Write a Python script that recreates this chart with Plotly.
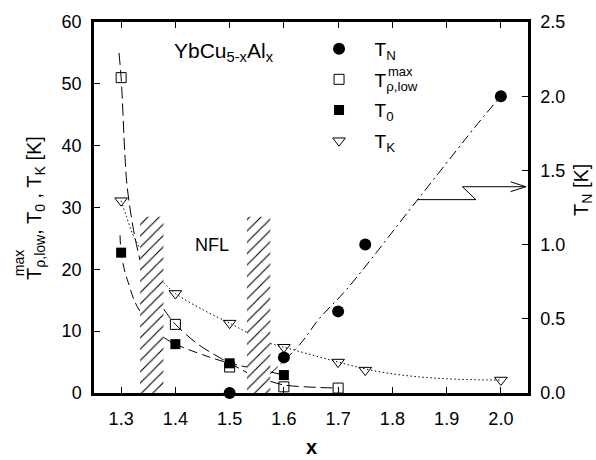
import plotly.graph_objects as go

# ---------------- data ----------------
# measured points
TN_x = [1.5, 1.6, 1.7, 1.75, 2.0]
TN_val = [0.0, 0.24, 0.55, 1.0, 2.0]            # right axis [K]
Tmax_x = [1.3, 1.4, 1.5, 1.6, 1.7]
Tmax_val = [51.0, 11.1, 4.2, 1.0, 0.8]           # left axis [K]
T0_x = [1.3, 1.4, 1.5, 1.6]
T0_val = [22.7, 7.9, 4.8, 2.9]
TK_x = [1.3, 1.4, 1.5, 1.6, 1.7, 1.75, 2.0]
TK_val = [31.1, 16.1, 11.3, 7.4, 5.0, 3.7, 2.1]

# guide-to-the-eye curves (None = interrupted by the NFL bands)
Tmax_curve_x = [1.296, 1.300, 1.307, 1.311, 1.323, 1.335, None,
                1.378, 1.388, 1.40, 1.44, 1.48, 1.532, None,
                1.575, 1.60, 1.65, 1.70]
Tmax_curve_y = [55.0, 51.0, 38.5, 33.5, 26.3, 21.4, None,
                13.6, 12.4, 11.1, 8.0, 5.8, 3.3, None,
                1.9, 1.3, 0.95, 0.8]
T0_curve_x = [1.298, 1.300, 1.307, 1.313, 1.325, 1.335, None,
              1.378, 1.40, 1.45, 1.50, 1.532, None,
              1.575, 1.60]
T0_curve_y = [25.5, 22.7, 19.6, 17.9, 14.8, 13.2, None,
              9.0, 7.9, 6.2, 4.8, 4.2, None,
              3.4, 2.9]
TK_curve_x = [1.300, 1.310, 1.320, 1.335, None,
              1.378, 1.40, 1.45, 1.50, 1.532, None,
              1.575, 1.60, 1.65, 1.70, 1.75, 1.80, 1.85, 1.90, 1.95, 2.00]
TK_curve_y = [31.1, 28.5, 26.0, 23.3, None,
              17.9, 16.1, 13.5, 11.3, 9.8, None,
              8.0, 7.4, 6.2, 5.0, 3.9, 3.1, 2.6, 2.3, 2.15, 2.1]
TN_curve_x = [1.575, 1.63, 1.665, 1.716, 1.846, 1.963, 2.0]
TN_curve_y = [0.13, 0.33, 0.50, 0.70, 1.30, 1.84, 2.0]

# NFL hatched bands (x ranges) and their height on the left axis
NFL_bands = [(1.335, 1.378), (1.532, 1.575)]
band_top = 28.5

# zig-zag arrow pointing to the right (T_N) axis
arrow_x = [1.846, 1.954, 1.929, 2.046]
arrow_y = [1.303, 1.303, 1.39, 1.39]
arrowhead_x = [2.018, 2.046, 2.018]
arrowhead_y = [1.423, 1.39, 1.357]

x_ticks = [1.3, 1.4, 1.5, 1.6, 1.7, 1.8, 1.9, 2.0]

FONT = "Liberation Sans, Arial, Helvetica, sans-serif"
PAD = "\u00a0\u00a0"

fig = go.Figure()

# curves
fig.add_trace(go.Scatter(x=Tmax_curve_x, y=Tmax_curve_y, mode="lines",
                         line=dict(color="black", width=1, dash="12px,5px", shape="spline"),
                         showlegend=False, hoverinfo="skip"))
fig.add_trace(go.Scatter(x=T0_curve_x, y=T0_curve_y, mode="lines",
                         line=dict(color="black", width=1, dash="9px,5px", shape="spline"),
                         showlegend=False, hoverinfo="skip"))
fig.add_trace(go.Scatter(x=TK_curve_x, y=TK_curve_y, mode="lines",
                         line=dict(color="black", width=1, dash="1.5px,2.5px", shape="spline"),
                         showlegend=False, hoverinfo="skip"))
fig.add_trace(go.Scatter(x=TN_curve_x, y=TN_curve_y, mode="lines", yaxis="y2",
                         line=dict(color="black", width=1, dash="10px,4px,2px,4px", shape="spline"),
                         showlegend=False, hoverinfo="skip"))

# hatched NFL bands
for (x0, x1) in NFL_bands:
    fig.add_trace(go.Scatter(x=[x0, x1, x1, x0, x0], y=[0, 0, band_top, band_top, 0],
                             mode="lines", fill="toself", line=dict(width=0, color="rgba(0,0,0,0)"),
                             fillcolor="white",
                             fillpattern=dict(shape="/", bgcolor="white", fgcolor="black",
                                              fgopacity=1, size=8, solidity=0.14),
                             showlegend=False, hoverinfo="skip"))

# zig-zag arrow
fig.add_trace(go.Scatter(x=arrow_x, y=arrow_y, yaxis="y2", mode="lines",
                         line=dict(color="black", width=1), showlegend=False, hoverinfo="skip"))
fig.add_trace(go.Scatter(x=arrowhead_x, y=arrowhead_y, yaxis="y2", mode="lines",
                         line=dict(color="black", width=1), showlegend=False, hoverinfo="skip"))

# markers
fig.add_trace(go.Scatter(x=TN_x, y=TN_val, yaxis="y2", mode="markers", name=PAD + "T<sub>N</sub>",
                         legendgroup="a", cliponaxis=False,
                         marker=dict(symbol="circle", size=12, color="black")))
fig.add_trace(go.Scatter(x=Tmax_x, y=Tmax_val, mode="markers", name=PAD + "T<sub>ρ,low</sub>",
                         legendgroup="b", cliponaxis=False,
                         marker=dict(symbol="square-open", size=10, color="black", line=dict(width=1))))
fig.add_trace(go.Scatter(x=T0_x, y=T0_val, mode="markers", name=PAD + "T<sub>0</sub>",
                         legendgroup="c", cliponaxis=False,
                         marker=dict(symbol="square", size=10, color="black")))
fig.add_trace(go.Scatter(x=TK_x, y=TK_val, mode="markers", name=PAD + "T<sub>K</sub>",
                         legendgroup="d", cliponaxis=False,
                         marker=dict(symbol="triangle-down-open", size=11, color="black", line=dict(width=1))))

axis_common = dict(showline=True, linewidth=2.5, linecolor="black", ticks="inside",
                   ticklen=6, tickwidth=1, tickcolor="black", showgrid=False, zeroline=False,
                   tickfont=dict(family=FONT, size=18, color="black"))

fig.update_layout(
    width=596, height=460,
    margin=dict(l=94, r=68, t=14, b=67),
    plot_bgcolor="white", paper_bgcolor="white",
    font=dict(family=FONT, color="black"),
    xaxis=dict(range=[1.25, 2.05], tickvals=x_ticks, tickformat=".1f", mirror="ticks",
               ticklabelstandoff=8, **axis_common),
    yaxis=dict(range=[0, 60], dtick=10, ticklabelstandoff=6, **axis_common),
    yaxis2=dict(range=[0, 2.5], dtick=0.5, tickformat=".1f", overlaying="y", side="right",
                ticklabelstandoff=6, **axis_common),
    legend=dict(x=0.507, y=0.979, xanchor="left", yanchor="top", bgcolor="rgba(0,0,0,0)",
                font=dict(family=FONT, size=19, color="black"), tracegroupgap=3, itemwidth=40),
    showlegend=True,
)

annots = [
    dict(text="YbCu<sub>5-x</sub>Al<sub>x</sub>", xref="paper", yref="paper", x=0.179, y=0.918,
         xanchor="left", yanchor="middle", showarrow=False, font=dict(size=21)),
    dict(text="NFL", xref="x", yref="y", x=1.467, y=24, showarrow=False, font=dict(size=18)),
    dict(text="max", xref="paper", yref="paper", x=0.707, y=0.866, showarrow=False,
         font=dict(size=13)),
    dict(text="<b>x</b>", xref="paper", yref="paper", x=0.5, y=-0.145, showarrow=False,
         font=dict(size=20)),
    dict(text="T<sub>ρ,low</sub>, T<sub>0</sub> , T<sub>K</sub> [K]", xref="paper", yref="paper",
         x=-0.135, y=0.5, textangle=-90, showarrow=False, font=dict(size=20)),
    dict(text="max", xref="paper", yref="paper", x=-0.174, y=0.351, textangle=-90,
         showarrow=False, font=dict(size=14)),
    dict(text="T<sub>N</sub> [K]", xref="paper", yref="paper", x=1.127, y=0.5475, textangle=-90,
         showarrow=False, font=dict(size=20)),
]
for a in annots:
    a.setdefault("font", {})
    a["font"].update(family=FONT, color="black")
    a.setdefault("xanchor", "center")
    a.setdefault("yanchor", "middle")
fig.update_layout(annotations=annots)

fig.write_html("out.html")
